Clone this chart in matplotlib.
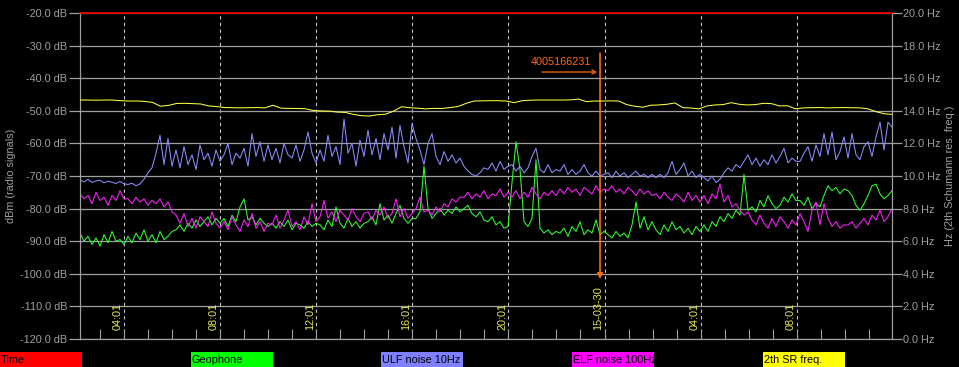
import numpy as np
import matplotlib
matplotlib.use("Agg")
import matplotlib.pyplot as plt
from matplotlib.patches import Rectangle
from matplotlib.transforms import blended_transform_factory

plt.rcParams['font.family'] = ['Liberation Sans', 'DejaVu Sans']

# -------------------------
# time span (hours since 15-03-29 00:00)
# -------------------------
T_START = 2.19
T_END = 35.98

# dashed time markers and their labels
marker_hours = [4.017, 8.017, 12.017, 16.017, 20.017, 24.017, 28.017, 32.017]
marker_labels = ["04:01", "08:01", "12:01", "16:01", "20:01", "15-03-30", "04:01", "08:01"]
hour_ticks = [3.017 + i for i in range(33)]

# -------------------------
# series values (dB), one value every ~10 minutes
# -------------------------
ulf_db = [
    -71.2, -71.8, -71.0, -72.0, -71.5, -71.3, -72.1, -71.6, -71.9, -72.3, -71.7, -72.4,
    -72.6, -72.2, -73.0, -72.4, -71.0, -69.0, -67.5, -63.0, -57.5, -66.5, -58.5, -67.0,
    -62.0, -67.5, -61.0, -66.5, -63.5, -68.0, -60.5, -65.0, -63.0, -67.0, -62.0, -65.5,
    -63.5, -60.0, -66.5, -63.0, -64.5, -61.5, -67.0, -57.0, -64.0, -59.5, -65.5, -60.5,
    -65.0, -61.5, -66.0, -60.0, -63.5, -64.5, -60.5, -65.5, -62.0, -56.5, -63.0, -66.0,
    -62.0, -65.5, -57.5, -64.0, -61.0, -66.5, -52.5, -63.0, -60.0, -67.0, -59.0, -64.0,
    -56.0, -63.5, -58.5, -65.0, -57.0, -62.0, -55.0, -64.5, -54.5, -61.0, -66.0, -54.0,
    -58.5, -62.0, -66.5, -60.0, -57.0, -64.0, -66.5, -62.5, -65.5, -63.5, -66.0, -64.5,
    -67.0, -68.5, -69.5, -70.0, -69.0, -67.5, -68.0, -66.0, -68.5, -65.5, -68.0, -67.0,
    -66.5, -68.5, -67.0, -69.0, -67.5, -64.0, -61.5, -68.0, -69.0, -66.5, -69.0, -68.0,
    -68.5, -66.5, -69.5, -68.0, -69.5, -68.5, -66.5, -69.0, -70.0, -68.5, -70.0, -69.5,
    -69.0, -70.5, -68.5, -70.0, -69.0, -70.5, -69.5, -68.5, -70.0, -69.5, -70.5, -69.5,
    -70.5, -69.5, -70.5, -69.0, -65.5, -69.5, -68.0, -66.0, -70.0, -68.5, -70.5, -69.5,
    -70.5, -71.5, -70.0, -72.0, -71.0, -69.0, -67.5, -68.5, -66.5, -67.5, -65.5, -63.5,
    -66.5, -64.5, -67.0, -65.0, -66.5, -63.5, -66.0, -64.0, -61.5, -66.0, -64.5, -65.5,
    -65.5, -63.0, -61.0, -65.5, -60.5, -64.0, -57.0, -63.5, -56.5, -65.0, -62.5, -58.0,
    -64.5, -57.0, -63.5, -65.0, -61.0, -59.5, -64.0, -58.0, -53.5, -62.0, -53.5, -55.0,
]

elf_db = [
    -75.5, -77.0, -76.0, -78.5, -75.0, -77.5, -76.5, -79.0, -76.0, -77.5, -74.5, -77.0,
    -77.0, -78.5, -76.5, -78.0, -77.0, -79.0, -77.5, -78.5, -77.0, -79.5, -78.0, -81.0,
    -82.0, -84.5, -81.5, -85.5, -83.0, -86.0, -82.5, -84.0, -85.5, -81.0, -84.5, -86.0,
    -84.0, -86.5, -82.5, -85.0, -87.0, -83.5, -85.5, -81.5, -86.0, -84.0, -87.0, -84.5,
    -85.0, -82.0, -86.0, -83.5, -80.5, -85.5, -84.0, -86.5, -82.5, -85.0, -78.5, -84.0,
    -82.5, -77.5, -83.0, -81.0, -84.0, -80.5, -82.0, -83.5, -80.0, -82.5, -84.0, -81.5,
    -81.0, -83.5, -80.5, -82.0, -79.5, -83.0, -81.5, -77.0, -82.5, -80.0, -83.0, -81.5,
    -80.0, -76.5, -81.0, -80.5, -82.0, -79.5, -81.0, -78.5, -79.5, -77.0, -78.0, -76.5,
    -76.5, -75.0, -77.0, -75.5, -76.5, -74.5, -77.0, -75.5, -76.0, -74.0, -76.5, -75.0,
    -76.5, -74.5, -77.0, -75.0, -76.5, -73.5, -75.5, -77.0, -75.0, -76.0, -74.5, -76.0,
    -74.0, -75.5, -73.5, -75.0, -74.0, -76.0, -73.5, -74.5, -75.5, -73.0, -75.0, -74.0,
    -74.5, -73.0, -75.0, -74.0, -75.5, -73.5, -74.5, -76.0, -74.0, -75.5, -74.5, -76.0,
    -75.5, -77.0, -75.0, -76.5, -77.5, -75.5, -76.5, -78.0, -75.0, -77.5, -76.0, -78.0,
    -76.0, -78.5, -75.5, -77.0, -72.5, -78.0, -76.0, -79.5, -78.5, -80.5, -82.0, -81.0,
    -83.5, -85.0, -82.0, -84.5, -86.0, -83.0, -85.5, -82.5, -84.0, -86.0, -83.5, -85.0,
    -81.5, -84.0, -87.0, -80.5, -78.0, -85.0, -78.5, -83.0, -85.5, -84.0, -86.0, -85.0,
    -85.0, -84.0, -86.0, -84.5, -83.0, -85.0, -82.0, -83.5, -80.5, -84.0, -82.5, -80.0,
]

geo_db = [
    -87.5, -90.0, -88.5, -91.0, -89.0, -91.5, -88.0, -90.5, -87.0, -90.0, -89.5, -91.0,
    -88.5, -90.5, -87.5, -89.5, -86.5, -90.0, -88.0, -90.5, -87.0, -89.5, -88.5, -87.0,
    -86.5, -85.0, -87.0, -84.5, -86.0, -83.5, -85.5, -84.0, -82.5, -85.0, -83.0, -84.5,
    -83.0, -85.5, -82.0, -84.0, -79.5, -77.0, -83.5, -82.5, -85.0, -83.0, -84.5, -85.5,
    -84.5, -86.0, -84.0, -85.5, -83.5, -86.5, -84.5, -85.0, -86.0, -84.0, -85.5, -84.5,
    -85.0, -86.5, -83.5, -85.5, -79.5, -84.5, -86.0, -83.0, -85.5, -84.0, -86.0, -84.5,
    -84.0, -82.5, -85.0, -78.5, -83.5, -82.0, -84.5, -81.5, -79.0, -83.0, -84.5, -83.0,
    -83.0, -81.0, -67.0, -80.0, -83.0, -81.5, -80.0, -82.0, -80.5, -81.5, -79.5, -81.0,
    -80.0, -79.0, -81.5, -82.5, -81.0, -83.5, -84.0, -82.5, -85.0, -84.0, -86.0, -85.5,
    -72.0, -59.5, -68.0, -84.0, -85.5, -83.0, -65.0, -86.0, -87.5, -86.5, -88.0, -87.0,
    -87.5, -86.0, -88.5, -85.5, -87.0, -84.0, -88.0, -86.5, -87.5, -83.5, -88.0, -87.0,
    -88.0, -89.0, -87.0, -88.5, -87.5, -89.0, -85.0, -78.0, -86.0, -82.5, -86.5, -84.0,
    -86.5, -88.0, -85.0, -87.0, -84.0, -86.5, -85.5, -87.5, -86.0, -88.0, -85.5, -87.0,
    -85.0, -87.0, -84.0, -85.5, -82.5, -84.0, -81.5, -83.0, -80.5, -82.0, -69.5, -80.5,
    -79.5, -81.0, -77.5, -79.5, -76.0, -78.5, -80.0, -79.0, -76.5, -78.0, -75.5, -77.5,
    -77.5, -79.0, -76.5, -80.0, -78.5, -79.5, -76.0, -73.0, -74.5, -73.5, -75.5, -74.0,
    -74.5, -76.0, -79.0, -80.5, -78.5, -76.0, -73.0, -72.5, -75.5, -77.0, -76.0, -74.5,
]

# 2nd Schumann resonance frequency (Hz), one value every ~20 minutes
sr_hz = [
    14.66, 14.66, 14.65, 14.66, 14.66, 14.62,
    14.60, 14.60, 14.58, 14.52, 14.28, 14.33,
    14.45, 14.46, 14.44, 14.42, 14.30, 14.26,
    14.20, 14.19, 14.18, 14.19, 14.20, 14.18,
    14.34, 14.16, 14.15, 14.14, 14.13, 14.02,
    13.99, 13.98, 13.92, 13.90, 13.78, 13.70,
    13.68, 13.76, 13.79, 13.98, 14.25, 14.19,
    14.16, 14.12, 14.15, 14.14, 14.20, 14.26,
    14.45, 14.60, 14.61, 14.62, 14.62, 14.60,
    14.50, 14.62, 14.65, 14.66, 14.66, 14.66,
    14.66, 14.67, 14.72, 14.56, 14.60, 14.60,
    14.61, 14.60, 14.38, 14.28, 14.22, 14.34,
    14.36, 14.40, 14.48, 14.19, 14.17, 14.12,
    14.30, 14.36, 14.38, 14.50, 14.40, 14.36,
    14.38, 14.46, 14.44, 14.30, 14.31, 14.12,
    14.18, 14.19, 14.20, 14.18, 14.19, 14.20,
    14.19, 14.18, 14.12, 13.95, 13.82, 13.78,
]

# annotation
ANNOT_HOUR = 23.83
ANNOT_LABEL = "4005166231"

legend_names = ["Time", "Geophone", "ULF noise 10Hz", "ELF noise 100Hz", "2th SR freq."]
legend_colors = ["#ff0000", "#00ff00", "#8080ff", "#ff00ff", "#ffff00"]

GRAY = "#a0a0a0"
ORANGE = "#ff6a10"

# -------------------------
# figure
# -------------------------
W, H = 959, 367
fig = plt.figure(figsize=(W / 100, H / 100), dpi=100, facecolor="black")
ax = fig.add_axes([80 / W, 28 / H, 812 / W, 326 / H])
ax.set_facecolor("black")

t_noise = np.linspace(T_START, T_END, len(ulf_db))
t_sr = np.linspace(T_START, T_END, len(sr_hz))

ax.set_xlim(T_START, T_END)
ax.set_ylim(-120, -20)
ax.set_yticks(np.arange(-120, -19, 10))
ax.set_yticklabels([f"{v:.1f} dB" for v in np.arange(-120, -19, 10)])
ax.yaxis.grid(True, color=GRAY, lw=0.9)
ax.set_xticks([])
ax.set_xticks(hour_ticks, minor=True)
ax.tick_params(axis="x", which="minor", direction="in", length=7, color=GRAY, width=0.8)
ax.tick_params(axis="y", direction="out", length=8, width=0.9, color=GRAY,
               labelcolor=GRAY, labelsize=7.8, pad=1)

for h in marker_hours:
    ax.axvline(h, color="#c8c8c8", lw=0.8, ls=(0, (3, 3)), zorder=1)

trans = blended_transform_factory(ax.transData, ax.transAxes)
for h, lab in zip(marker_hours, marker_labels):
    ax.text(h - 0.04, 0.028, lab, rotation=90, ha="right", va="bottom",
            color="#e8e850", fontsize=7.8, transform=trans)

ax.plot(t_noise, geo_db, color="#30ff30", lw=0.75, zorder=3)
ax.plot(t_noise, elf_db, color="#ff20ff", lw=0.75, zorder=3)
ax.plot(t_noise, ulf_db, color="#8c8cff", lw=0.75, zorder=4)

for side in ["left", "right", "bottom"]:
    ax.spines[side].set_color(GRAY)
ax.spines["top"].set_color("#dd0000")
ax.spines["top"].set_linewidth(1.2)

ax.set_ylabel("dBm (radio signals)", color=GRAY, fontsize=7.8, labelpad=3)

# right axis (Hz)
ax2 = ax.twinx()
ax2.set_ylim(0, 20)
ax2.set_yticks(np.arange(0, 21, 2))
ax2.set_yticklabels([f"{v:.1f} Hz" for v in np.arange(0, 21, 2)])
ax2.tick_params(axis="y", direction="out", length=7, width=0.9, color=GRAY,
                labelcolor=GRAY, labelsize=7.8, pad=1)
for side in ["left", "right", "bottom"]:
    ax2.spines[side].set_color(GRAY)
ax2.spines["top"].set_color("#dd0000")
ax2.spines["top"].set_linewidth(1.2)
ax2.plot(t_sr, sr_hz, color="#ffff40", lw=0.75, zorder=3)
ax2.set_ylabel("Hz (2th Schumann res. freq.)", color=GRAY, fontsize=7.8, labelpad=3)

# annotation arrow + label
ax.annotate("", xy=(ANNOT_HOUR, -101.6), xytext=(ANNOT_HOUR, -32.3),
            arrowprops=dict(arrowstyle="-|>", color=ORANGE, lw=1.2,
                            mutation_scale=8, shrinkA=0, shrinkB=0))
ax.annotate("", xy=(ANNOT_HOUR - 0.12, -38.1), xytext=(ANNOT_HOUR - 2.42, -38.1),
            arrowprops=dict(arrowstyle="->", color=ORANGE, lw=0.9,
                            mutation_scale=7, shrinkA=0, shrinkB=0))
ax.text(ANNOT_HOUR - 2.9, -35.0, ANNOT_LABEL, color=ORANGE, fontsize=7.8,
        ha="left", va="center")

# bottom legend strip
for i, (name, col) in enumerate(zip(legend_names, legend_colors)):
    x0 = i * 190.7
    fig.add_artist(Rectangle((x0 / W, 0), 82 / W, 15 / H, transform=fig.transFigure,
                             facecolor=col, edgecolor="none"))
    fig.text((x0 + 1) / W, 7 / H, name, color="black", fontsize=7.8,
             ha="left", va="center")

fig.savefig("out.png", dpi=100, facecolor="black")
